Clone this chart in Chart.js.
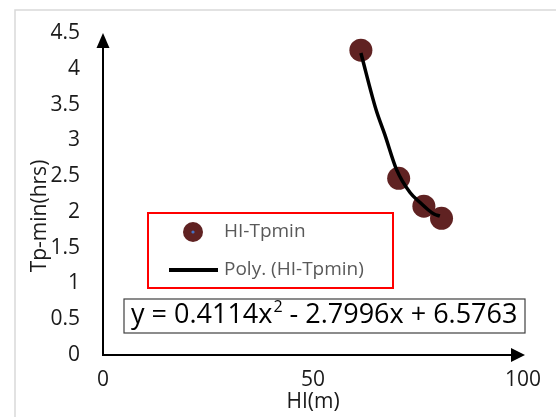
<!DOCTYPE html>
<html>
<head>
<meta charset="utf-8">
<script src="https://cdn.jsdelivr.net/npm/chart.js@4.4.1/dist/chart.umd.min.js"></script>
<style>
  html, body { margin: 0; padding: 0; background: #fff; }
  #wrap { width: 556px; height: 417px; }
</style>
</head>
<body>
<div id="wrap"><canvas id="chart" width="556" height="417"></canvas></div>
<script>
// HI vs Tp-min measurements
const hiValues = [61.4, 70.4, 76.4, 80.6];
const tpValues = [4.26, 2.47, 2.08, 1.91];

// polynomial trend curve, sampled along HI
const trendHi = [61.4, 65.0, 67.1, 69.9, 73.1, 75.5, 77.4, 78.8, 80.2];
const trendTp = [4.22, 3.43, 3.08, 2.59, 2.27, 2.13, 2.03, 1.97, 1.94];

const xTicks = [0, 50, 100];
const yTicks = [0, 0.5, 1, 1.5, 2, 2.5, 3, 3.5, 4, 4.5];
const seriesNames = ['HI-Tpmin', 'Poly. (HI-Tpmin)'];
const xTitle = 'HI(m)';
const yTitle = 'Tp-min(hrs)';
const eqParts = ['y = 0.4114x', '2', ' - 2.7996x + 6.5763'];

const FONT = "'Open Sans', sans-serif";
const MARKER = '#602222';

// frame, arrowed axes, titles, legend and equation box
const decor = {
  id: 'decor',
  beforeDraw(chart) {
    const ctx = chart.ctx;
    ctx.save();
    ctx.strokeStyle = '#d9d9d9';
    ctx.lineWidth = 1.5;
    ctx.strokeRect(15, 10, 600, 500);
    ctx.restore();
  },
  beforeDatasetsDraw(chart) {
    const { ctx, scales: { x, y }, chartArea } = chart;
    const x0 = x.getPixelForValue(0), y0 = y.getPixelForValue(0);
    const xEnd = chartArea.right + 2, yEnd = chartArea.top;
    ctx.save();
    ctx.strokeStyle = '#000';
    ctx.fillStyle = '#000';
    ctx.lineWidth = 2;
    ctx.beginPath();
    ctx.moveTo(x0, yEnd + 10);
    ctx.lineTo(x0, y0);
    ctx.lineTo(xEnd - 10, y0);
    ctx.stroke();
    ctx.beginPath();
    ctx.moveTo(x0, yEnd);
    ctx.lineTo(x0 - 6.5, yEnd + 15);
    ctx.lineTo(x0 + 6.5, yEnd + 15);
    ctx.closePath();
    ctx.fill();
    ctx.beginPath();
    ctx.moveTo(xEnd, y0);
    ctx.lineTo(xEnd - 14, y0 - 7);
    ctx.lineTo(xEnd - 14, y0 + 7);
    ctx.closePath();
    ctx.fill();

    // axis titles
    ctx.fillStyle = '#1a1a1a';
    ctx.font = `21px ${FONT}`;
    ctx.textAlign = 'center';
    ctx.textBaseline = 'middle';
    ctx.fillText(xTitle, x.getPixelForValue(50), 402);
    ctx.translate(40, 216);
    ctx.rotate(-Math.PI / 2);
    ctx.fillText(yTitle, 0, 0);
    ctx.restore();
  },
  afterDraw(chart) {
    const ctx = chart.ctx;
    const pts = chart.data.datasets[0], fit = chart.data.datasets[1];
    ctx.save();

    // legend
    ctx.fillStyle = '#fff';
    ctx.fillRect(148, 213, 245, 75);
    ctx.strokeStyle = '#ff0000';
    ctx.lineWidth = 2;
    ctx.strokeRect(148, 213, 245, 75);
    ctx.fillStyle = pts.backgroundColor;
    ctx.beginPath();
    ctx.arc(193, 232, 10, 0, Math.PI * 2);
    ctx.fill();
    ctx.fillStyle = '#4472c4';
    ctx.beginPath();
    ctx.arc(193, 232, 1.6, 0, Math.PI * 2);
    ctx.fill();
    ctx.strokeStyle = fit.borderColor;
    ctx.lineWidth = 4;
    ctx.beginPath();
    ctx.moveTo(169, 270);
    ctx.lineTo(218, 270);
    ctx.stroke();
    ctx.fillStyle = '#595959';
    ctx.font = `19px ${FONT}`;
    ctx.textBaseline = 'middle';
    ctx.fillText(pts.label, 224, 232);
    ctx.fillText(fit.label, 224, 270);

    // trend equation
    ctx.fillStyle = '#fff';
    ctx.fillRect(124, 299, 401, 34);
    ctx.strokeStyle = '#404040';
    ctx.lineWidth = 1.2;
    ctx.strokeRect(124, 299, 401, 34);
    ctx.fillStyle = '#000';
    ctx.textBaseline = 'alphabetic';
    ctx.font = `27px ${FONT}`;
    let cx = 131;
    ctx.fillText(eqParts[0], cx, 323);
    cx += ctx.measureText(eqParts[0]).width;
    ctx.font = `16px ${FONT}`;
    ctx.fillText(eqParts[1], cx + 1, 312);
    cx += ctx.measureText(eqParts[1]).width + 1;
    ctx.font = `27px ${FONT}`;
    ctx.fillText(eqParts[2], cx, 323);
    ctx.restore();
  }
};

new Chart(document.getElementById('chart'), {
  type: 'scatter',
  data: {
    datasets: [
      {
        label: seriesNames[0],
        data: hiValues.map((v, i) => ({ x: v, y: tpValues[i] })),
        backgroundColor: MARKER,
        borderColor: MARKER,
        pointRadius: 11.5,
        pointBorderWidth: 0,
        order: 2
      },
      {
        label: seriesNames[1],
        data: trendHi.map((v, i) => ({ x: v, y: trendTp[i] })),
        showLine: true,
        borderColor: '#000',
        borderWidth: 3.5,
        pointRadius: 0,
        cubicInterpolationMode: 'monotone',
        order: 1
      }
    ]
  },
  options: {
    responsive: false,
    animation: false,
    devicePixelRatio: 1,
    layout: { padding: { top: 33, right: 33, left: 0, bottom: 0 } },
    plugins: { legend: { display: false }, tooltip: { enabled: false } },
    scales: {
      x: {
        type: 'linear', min: 0, max: 100,
        grid: { display: false, drawTicks: false },
        border: { display: false },
        afterBuildTicks: s => { s.ticks = xTicks.map(v => ({ value: v })); },
        afterFit: s => { s.height = 62; s.paddingLeft = 0; s.paddingRight = 0; },
        ticks: { color: '#1a1a1a', padding: 12, maxRotation: 0, font: { family: FONT, size: 21 }, callback: v => String(v) }
      },
      y: {
        type: 'linear', min: 0, max: 4.5,
        grid: { display: false, drawTicks: false },
        border: { display: false },
        afterBuildTicks: s => { s.ticks = yTicks.map(v => ({ value: v })); },
        afterFit: s => { s.width = 103; s.paddingTop = 0; s.paddingBottom = 0; },
        ticks: { color: '#1a1a1a', padding: 23, font: { family: FONT, size: 21 }, callback: v => String(v) }
      }
    }
  },
  plugins: [decor]
});
</script>
</body>
</html>
